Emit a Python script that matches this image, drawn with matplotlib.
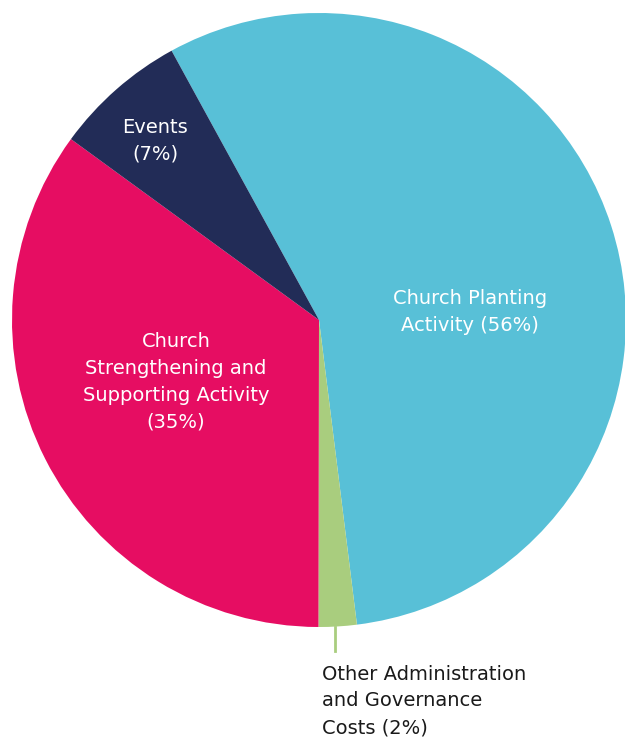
import matplotlib.pyplot as plt

# data
labels = ['Church Planting\nActivity (56%)',
          'Other Administration\nand Governance\nCosts (2%)',
          'Church\nStrengthening and\nSupporting Activity\n(35%)',
          'Events\n(7%)']
values = [56, 2, 35, 7]
colours = ['#58C0D7', '#A9CD7E', '#E60D62', '#222C57']

W, H = 625, 737
fig = plt.figure(figsize=(W / 100, H / 100), dpi=100)
ax = fig.add_axes([0, 0, 1, 1])

cx, cy, r = 319, H - 320, 307
ax.pie(values, colors=colours, startangle=118.7, counterclock=False,
       center=(cx, cy), radius=r, frame=True,
       wedgeprops=dict(linewidth=0))
ax.set_xlim(0, W)
ax.set_ylim(0, H)
ax.set_aspect('equal')
ax.axis('off')

font = 'DejaVu Sans'
fs = 14
ls = 1.52
ax.text(470, H - 312, labels[0], color='white', ha='center', va='center',
        fontsize=fs, family=font, linespacing=ls)
ax.text(176, H - 382, labels[2], color='white', ha='center', va='center',
        fontsize=fs, family=font, linespacing=ls)
ax.text(155, H - 141, labels[3], color='white', ha='center', va='center',
        fontsize=fs, family=font, linespacing=ls)

# leader for the small slice
ax.plot([335, 335], [H - 627, H - 651], color=colours[1], lw=2)
ax.text(322, H - 701, labels[1], color='#1a1a1a', ha='left', va='center',
        fontsize=fs, family=font, linespacing=ls)

fig.savefig('out.png', dpi=100)
